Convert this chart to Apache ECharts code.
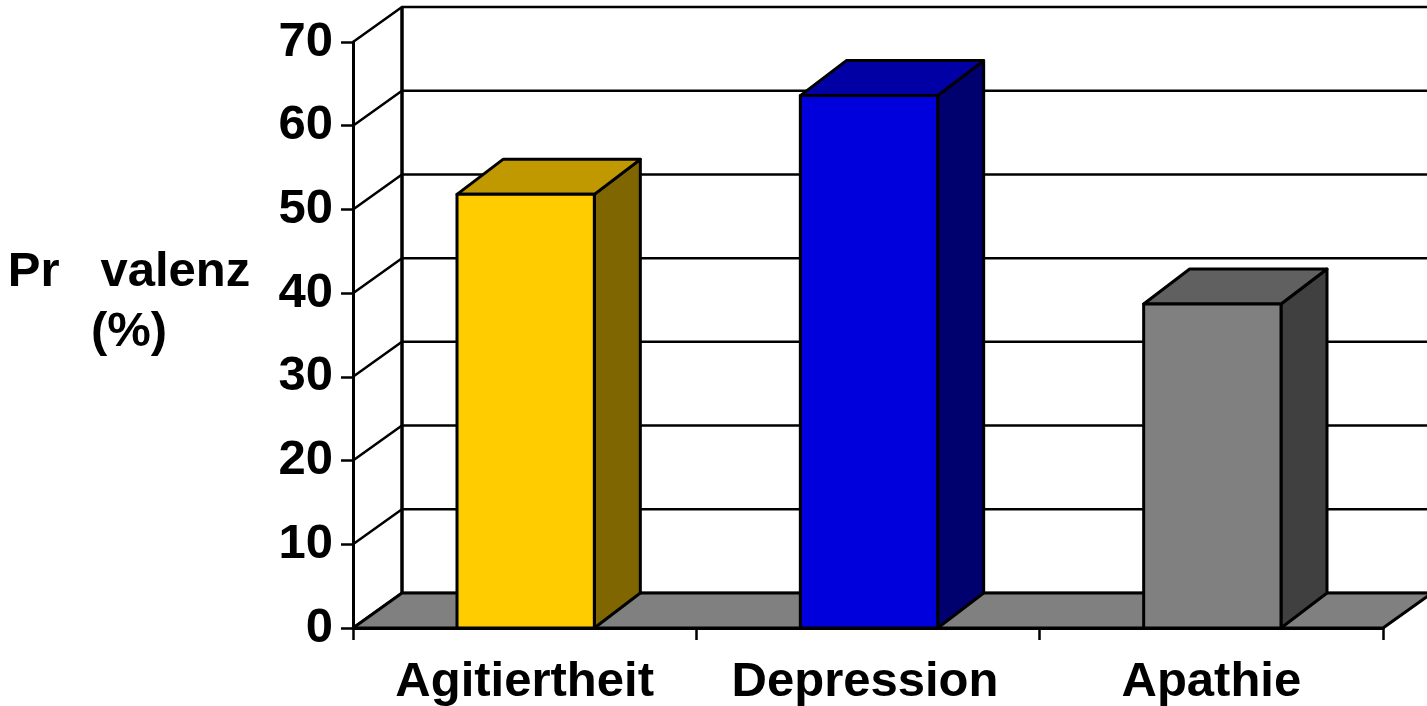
<!DOCTYPE html>
<html>
<head>
<meta charset="utf-8">
<style>html,body{margin:0;padding:0;background:#fff}#c{width:1427px;height:706px}</style>
<script src="https://cdn.jsdelivr.net/npm/echarts@6/dist/echarts.min.js"></script>
</head>
<body>
<div id="c"></div>
<script>
var categories = ['Agitiertheit', 'Depression', 'Apathie'];
var values = [51.8, 63.6, 38.7];
var frontColors = ['#FFCC00', '#0000DC', '#808080'];
var topColors = ['#C09900', '#0000A5', '#606060'];
var sideColors = ['#806600', '#00006E', '#404040'];
var gridTicks = [0, 10, 20, 30, 40, 50, 60, 70];
var axisTitle = 'Pr   valenz\n(%)';

var FONT = '"Liberation Sans", Arial, sans-serif';
var WALL_DX = 49, WALL_DY = -35, BAR_DX = 46, BAR_DY = -35, LINE = 3;
var BAR_RATIO = 0.4;

function poly(points, fill) {
  return {type: 'polygon', shape: {points: points},
    style: {fill: fill, stroke: '#000', lineWidth: LINE, lineJoin: 'round'}};
}
function seg(pts, w) {
  return {type: 'polyline', shape: {points: pts},
    style: {fill: 'none', stroke: '#000', lineWidth: w || LINE}};
}

var chart = echarts.init(document.getElementById('c'), null, {renderer: 'canvas'});
chart.setOption({
  animation: false,
  backgroundColor: '#fff',
  grid: {left: 353, top: 42, width: 1030, height: 586, containLabel: false, outerBoundsMode: 'none'},
  graphic: [{
    type: 'text', x: 129, y: 242, z: 10,
    style: {text: axisTitle, font: 'bold 49px ' + FONT, fill: '#000',
      textAlign: 'center', lineHeight: 60}
  }],
  xAxis: {
    type: 'category',
    data: categories.map(function (c, i) {
      return i === 1 ? {value: c, textStyle: {padding: [0, 6, 0, 0]}} : c;
    }),
    axisLine: {show: true, lineStyle: {color: '#000', width: LINE}},
    axisTick: {show: true, alignWithLabel: false, length: 12, lineStyle: {color: '#000', width: 2.5}},
    axisLabel: {color: '#000', fontFamily: FONT, fontWeight: 'bold', fontSize: 49, margin: 30, interval: 0},
    splitLine: {show: false}
  },
  yAxis: {
    type: 'value', min: 0, max: 70, interval: 10,
    axisLine: {show: true, lineStyle: {color: '#000', width: LINE}},
    axisTick: {show: true, length: 12, lineStyle: {color: '#000', width: 2.5}},
    axisLabel: {color: '#000', fontFamily: FONT, fontWeight: 'bold', fontSize: 49, margin: 20, padding: [4, 0, 0, 0]},
    splitLine: {show: false}
  },
  series: [
    {
      type: 'custom', coordinateSystem: 'cartesian2d', clip: false, z: 1, silent: true,
      data: gridTicks.map(function (t) { return [0, t]; }),
      encode: {x: 0, y: 1},
      renderItem: function (params, api) {
        var p = api.coord([0, api.value(1)]);
        var cs = params.coordSys;
        var left = cs.x, right = cs.x + cs.width, y = p[1];
        var children = [seg([[left, y], [left + WALL_DX, y + WALL_DY], [right + WALL_DX, y + WALL_DY]], 2.5)];
        if (api.value(1) === 0) {
          children.push(seg([[left + WALL_DX, cs.y + WALL_DY], [left + WALL_DX, y + WALL_DY]], 3.5));
        }
        return {type: 'group', children: children};
      }
    },
    {
      type: 'custom', coordinateSystem: 'cartesian2d', clip: false, z: 2, silent: true,
      data: [[0, 0]],
      encode: {x: 0, y: 1},
      renderItem: function (params, api) {
        var cs = params.coordSys, y = api.coord([0, 0])[1];
        var l = cs.x, r = cs.x + cs.width;
        return poly([[l, y], [l + WALL_DX, y + WALL_DY], [r + WALL_DX, y + WALL_DY], [r, y]], '#808080');
      }
    },
    {
      type: 'custom', coordinateSystem: 'cartesian2d', clip: false, z: 3,
      data: values.map(function (v, i) { return [i, v]; }),
      encode: {x: 0, y: 1},
      renderItem: function (params, api) {
        var i = api.value(0), v = api.value(1);
        var top = api.coord([i, v]), base = api.coord([i, 0]);
        var w = api.size([1, 0])[0] * BAR_RATIO;
        var l = top[0] - w / 2 + 1, r = top[0] + w / 2 + 1, t = top[1], b = base[1];
        return {type: 'group', children: [
          poly([[r, b], [r + BAR_DX, b + BAR_DY], [r + BAR_DX, t + BAR_DY], [r, t]], sideColors[i]),
          poly([[l, t], [l + BAR_DX, t + BAR_DY], [r + BAR_DX, t + BAR_DY], [r, t]], topColors[i]),
          poly([[l, b], [l, t], [r, t], [r, b]], frontColors[i])
        ]};
      }
    }
  ]
});
</script>
</body>
</html>
